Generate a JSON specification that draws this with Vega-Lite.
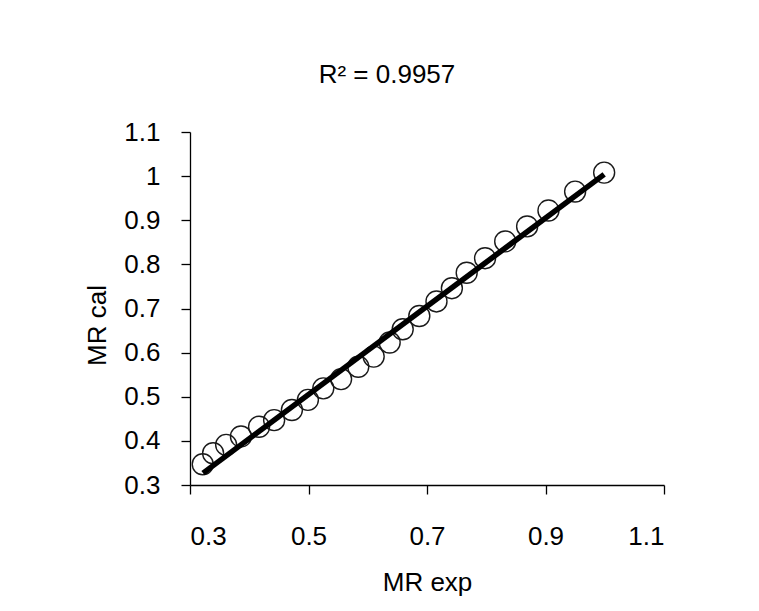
{
  "$schema": "https://vega.github.io/schema/vega-lite/v6.json",
  "width": 474,
  "height": 353,
  "autosize": {"type": "none"},
  "padding": {"left": 190, "top": 132, "right": 95, "bottom": 126},
  "background": "white",
  "config": {
    "view": {"stroke": null},
    "font": "Liberation Sans",
    "axis": {
      "grid": false,
      "domainColor": "#000000",
      "domainWidth": 1.3,
      "tickColor": "#000000",
      "tickWidth": 1.3,
      "tickSize": 9,
      "labelFont": "Liberation Sans",
      "labelFontSize": 26,
      "labelColor": "#000000",
      "titleFont": "Liberation Sans",
      "titleFontSize": 26,
      "titleFontWeight": "normal",
      "titleColor": "#000000"
    }
  },
  "title": {
    "text": "R² = 0.9957",
    "font": "Liberation Sans",
    "fontSize": 26,
    "fontWeight": "normal",
    "color": "#000000",
    "dx": -40,
    "offset": 31
  },
  "datasets": {
    "points": [
      {"exp": 0.3215, "cal": 0.347},
      {"exp": 0.339, "cal": 0.372},
      {"exp": 0.361, "cal": 0.391},
      {"exp": 0.386, "cal": 0.410},
      {"exp": 0.4166, "cal": 0.432},
      {"exp": 0.442, "cal": 0.447},
      {"exp": 0.472, "cal": 0.470},
      {"exp": 0.499, "cal": 0.493},
      {"exp": 0.525, "cal": 0.519},
      {"exp": 0.555, "cal": 0.540},
      {"exp": 0.584, "cal": 0.568},
      {"exp": 0.610, "cal": 0.591},
      {"exp": 0.637, "cal": 0.623},
      {"exp": 0.659, "cal": 0.653},
      {"exp": 0.687, "cal": 0.683},
      {"exp": 0.716, "cal": 0.716},
      {"exp": 0.742, "cal": 0.746},
      {"exp": 0.767, "cal": 0.781},
      {"exp": 0.798, "cal": 0.814},
      {"exp": 0.832, "cal": 0.852},
      {"exp": 0.869, "cal": 0.886},
      {"exp": 0.905, "cal": 0.922},
      {"exp": 0.950, "cal": 0.965},
      {"exp": 0.999, "cal": 1.008}
    ],
    "fit": [
      {"exp": 0.322, "cal": 0.327},
      {"exp": 0.999, "cal": 1.004}
    ]
  },
  "layer": [
    {
      "data": {"name": "points"},
      "mark": {"type": "point", "shape": "circle", "filled": false, "size": 440, "stroke": "#1a1a1a", "strokeWidth": 1.4, "opacity": 1},
      "encoding": {
        "x": {
          "field": "exp", "type": "quantitative",
          "scale": {"domain": [0.3, 1.1], "nice": false, "zero": false},
          "axis": {"values": [0.3, 0.5, 0.7, 0.9, 1.1], "format": "~g", "title": "MR exp", "labelPadding": 29, "titleBaseline": "alphabetic", "titleY": 105, "titleAnchor": "middle"}
        },
        "y": {
          "field": "cal", "type": "quantitative",
          "scale": {"domain": [0.3, 1.1], "nice": false, "zero": false},
          "axis": {"values": [0.3, 0.4, 0.5, 0.6, 0.7, 0.8, 0.9, 1.0, 1.1], "format": "~g", "title": "MR cal", "labelPadding": 21, "titleBaseline": "alphabetic", "titleX": -85, "titleY": 193, "titleAngle": -90}
        }
      }
    },
    {
      "data": {"name": "fit"},
      "mark": {"type": "line", "color": "#000000", "strokeWidth": 5.5, "strokeCap": "butt"},
      "encoding": {
        "x": {"field": "exp", "type": "quantitative"},
        "y": {"field": "cal", "type": "quantitative"}
      }
    }
  ]
}
